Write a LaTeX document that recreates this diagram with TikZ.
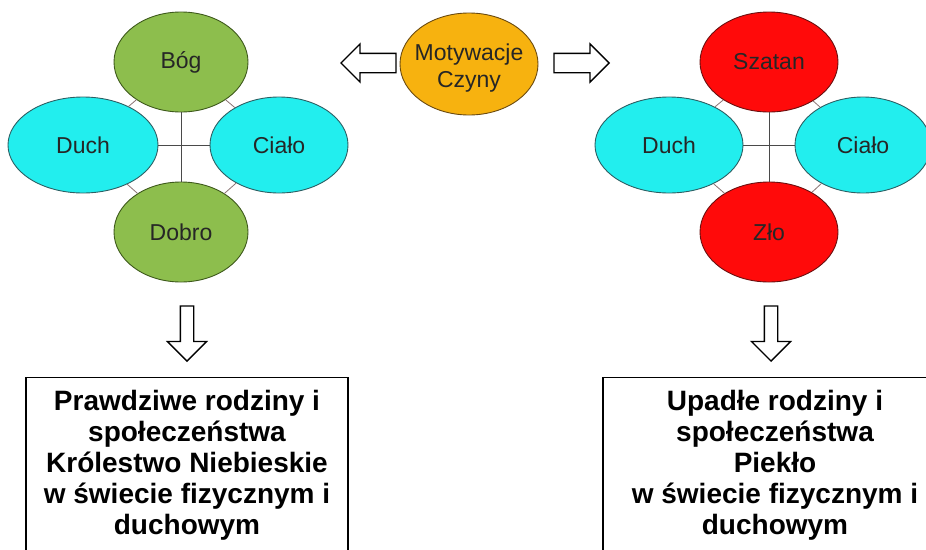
\documentclass[tikz,border=0pt]{standalone}
\usepackage{fontspec}
\setmainfont{Liberation Sans}
\usetikzlibrary{shapes.geometric,shapes.arrows}

\definecolor{goodFill}{HTML}{8DBE4D}
\definecolor{goodLine}{HTML}{3E5A1C}
\definecolor{soulFill}{HTML}{22EEEE}
\definecolor{soulLine}{HTML}{2C5F63}
\definecolor{evilFill}{HTML}{FF0A0A}
\definecolor{evilLine}{HTML}{6A1010}
\definecolor{motiveFill}{HTML}{F7B20F}
\definecolor{motiveLine}{HTML}{6A4A10}
\definecolor{crossGray}{HTML}{4A4A4A}
\definecolor{sideGray}{HTML}{8A7272}

\begin{document}
\begin{tikzpicture}[
            x = 1pt, y = -1pt, % pixel units, y downwards
            oval/.style = {shape=ellipse, line width=0.9pt, inner sep=0pt,
                           font=\fontsize{23}{27}\selectfont, text=black!85},
            good/.style = {oval, fill=goodFill, draw=goodLine,
                           minimum width=134pt, minimum height=100pt},
            evil/.style = {oval, fill=evilFill, draw=evilLine,
                           minimum width=138pt, minimum height=100pt},
            soul/.style = {oval, fill=soulFill, draw=soulLine, minimum height=96pt},
            motive/.style = {oval, fill=motiveFill, draw=motiveLine,
                           minimum width=138pt, minimum height=102pt},
            cross/.style = {draw=crossGray, line width=0.8pt}, % the + between ellipses
            side/.style = {draw=sideGray, line width=0.8pt},
            hollow/.style = {single arrow, draw=black, fill=white, line width=1.3pt,
                           minimum height=55pt},
            result/.style = {draw=black, line width=1.4pt, align=center, anchor=north,
                           inner ysep=12.5pt, font=\bfseries\fontsize{28}{31}\selectfont}
        ]

\useasboundingbox (0,0) rectangle (926,549);
\clip (0,0) rectangle (926,549);

% left cluster
\node[good] (Bog) at (181,62) {Bóg};
\node[soul, minimum width=150pt] (DuchL) at (83,145) {Duch};
\node[soul, minimum width=138pt] (CialoL) at (279,145) {Ciało};
\node[good] (Dobro) at (181,232) {Dobro};

\path [cross] (Bog) -- (Dobro);
\path [cross] (DuchL) -- (CialoL);
\path [side] (Bog) -- (DuchL);
\path [side] (Bog) -- (CialoL);
\path [side] (Dobro) -- (DuchL);
\path [side] (Dobro) -- (CialoL);

% right cluster
\node[evil] (Szatan) at (769,62) {Szatan};
\node[soul, minimum width=148pt] (DuchR) at (669,145) {Duch};
\node[soul, minimum width=136pt] (CialoR) at (863,145) {Ciało};
\node[evil] (Zlo) at (769,232) {Zło};

\path [cross] (Szatan) -- (Zlo);
\path [cross] (DuchR) -- (CialoR);
\path [side] (Szatan) -- (DuchR);
\path [side] (Szatan) -- (CialoR);
\path [side] (Zlo) -- (DuchR);
\path [side] (Zlo) -- (CialoR);

% motives in the middle
\node[motive] (Motyw) at (469,64) {};
\node[font=\fontsize{23}{27}\selectfont, text=black!85, align=center]
    (MotywText) at ([yshift=-4pt]Motyw.center) {Motywacje\\Czyny};

\node[hollow, inner xsep=0pt, inner ysep=9pt, single arrow head extend=9.5pt,
      shape border rotate=180, anchor=tip] (toGood) at (340,63) {};
\node[hollow, inner xsep=0pt, inner ysep=9pt, single arrow head extend=9.5pt,
      anchor=tip] (toEvil) at (610,63) {};

\node[hollow, inner xsep=6pt, inner ysep=0pt, single arrow head extend=13pt,
      shape border rotate=270, anchor=tip] (downGood) at (187,362) {};
\node[hollow, inner xsep=6pt, inner ysep=0pt, single arrow head extend=13pt,
      shape border rotate=270, anchor=tip] (downEvil) at (771,362) {};

% results
\node[result, minimum width=322pt] (Heaven) at (187,377)
    {Prawdziwe rodziny i\\społeczeństwa\\Królestwo Niebieskie\\w świecie fizycznym i\\duchowym};
\node[result, minimum width=344pt] (Hell) at (775,377)
    {Upadłe rodziny i\\społeczeństwa\\Piekło\\w świecie fizycznym i\\duchowym};
\end{tikzpicture}
\end{document}
